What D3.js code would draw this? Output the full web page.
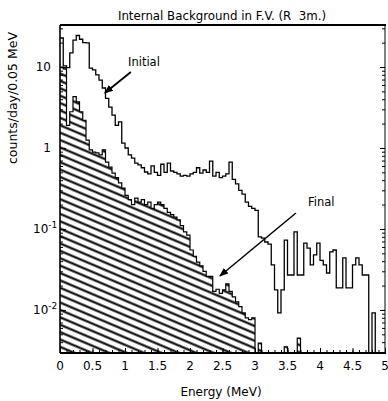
<!DOCTYPE html>
<html><head><meta charset="utf-8">
<script src="https://cdn.jsdelivr.net/npm/d3@7"></script>
<style>body{margin:0;background:#fff}svg{display:block}text{font-family:"DejaVu Sans",sans-serif;fill:#000}</style>
</head><body><div id="chart"></div>
<script>
// ---- data ----
const binWidth = 0.05; // MeV
const initialCounts = [22.8,10.3,9.8,14.9,21.5,24.5,22,20,19.8,9.7,
  9.2,8.0,6.9,5.5,4.1,3.2,2.55,1.9,2.1,1.15,
  1.0,0.82,0.75,0.65,0.62,0.57,0.505,0.48,0.6,0.5,
  0.46,0.63,0.5,0.65,0.52,0.5,0.48,0.45,0.46,0.45,
  0.48,0.5,0.57,0.49,0.535,0.5,0.69,0.45,0.5,0.43,
  0.45,0.48,0.67,0.41,0.36,0.30,0.27,0.215,0.19,0.18,
  0.17,0.08,0.077,0.069,0.065,0.036,0.0177,0.0092,0.0177,0.073,
  0.027,0.027,0.092,0.027,0.027,0.067,0.058,0.036,0.048,0.067,
  0.041,0.036,0.0286,0.052,0.055,0.0187,0.0187,0.044,0.0187,0.0187,
  0.036,0.044,0.036,0.027,0.027,0,0.0092,0,0,0];
const finalCounts = [10,9.5,1.9,2.8,4.3,3.7,2.8,2.2,1.25,0.95,
  0.89,0.87,0.82,0.95,0.67,0.58,0.49,0.43,0.37,0.32,
  0.26,0.23,0.2,0.24,0.215,0.23,0.2,0.215,0.18,0.2,
  0.215,0.2,0.18,0.16,0.15,0.14,0.13,0.11,0.092,0.084,
  0.055,0.046,0.039,0.035,0.03,0.026,0.026,0.017,0.018,0.016,
  0.0177,0.021,0.017,0.0145,0.0126,0.011,0.0092,0.008,0.0076,0.008,
  0,0.0039,0,0,0,0,0,0,0,0.0035,
  0,0,0,0.0045,0,0,0,0,0,0,
  0,0,0,0,0,0,0,0,0,0,
  0,0,0,0,0,0,0,0,0,0];
const xTickLabels = ["0","0.5","1","1.5","2","2.5","3","3.5","4","4.5","5"];
const xTickValues = [0,0.5,1,1.5,2,2.5,3,3.5,4,4.5,5];
const yMajorTicks = [10,1,0.1,0.01];
const yTickBase = ["10","1","10","10"];
const yTickExp = ["","","-1","-2"];
const titleText = "Internal Background in F.V. (R  3m.)";
const xTitle = "Energy (MeV)";
const yTitle = "counts/day/0.05 MeV";

// ---- layout ----
const W = 388, H = 401;
const L = 60, R = 385, T = 25, B = 353;
const yMin = 0.00294, yMax = 33;
const x = d3.scaleLinear().domain([0,5]).range([L,R]);
const y = d3.scaleLog().domain([yMin,yMax]).range([B,T]).clamp(true);

const svg = d3.select("#chart").append("svg").attr("width",W).attr("height",H);
const defs = svg.append("defs");
const pat = defs.append("pattern").attr("id","hatch").attr("patternUnits","userSpaceOnUse")
  .attr("width",12).attr("height",6.8).attr("patternTransform","rotate(23)");
pat.append("line").attr("x1",-1).attr("x2",13).attr("y1",3.4).attr("y2",3.4)
  .attr("stroke","#000").attr("stroke-width",2.1);
defs.append("marker").attr("id","arr").attr("viewBox","0 0 10 10").attr("refX",9).attr("refY",5)
  .attr("markerWidth",9).attr("markerHeight",9).attr("markerUnits","userSpaceOnUse").attr("orient","auto")
  .append("path").attr("d","M0,1 L10,5 L0,9 Z").attr("fill","#000");

function steps(vals){
  const pts = vals.map((v,i)=>[i*binWidth, v>0?v:yMin]);
  pts.push([vals.length*binWidth, vals[vals.length-1]>0?vals[vals.length-1]:yMin]);
  return pts;
}
const finalPts = steps(finalCounts);
const initPts = steps(initialCounts);

const area = d3.area().curve(d3.curveStepAfter).x(d=>x(d[0])).y0(B).y1(d=>y(d[1]));
const line = d3.line().curve(d3.curveStepAfter).x(d=>x(d[0])).y(d=>y(d[1]));

svg.append("path").attr("d",area(finalPts)).attr("fill","url(#hatch)").attr("stroke","none");
svg.append("path").attr("d",line(finalPts)).attr("fill","none").attr("stroke","#000").attr("stroke-width",1.2);
svg.append("path").attr("d",line(initPts)).attr("fill","none").attr("stroke","#000").attr("stroke-width",1.3);

// axes ticks
const minorY = [];
[0.001,0.01,0.1,1,10].forEach(d=>{for(let k=1;k<10;k++){const v=d*k; if(v>=yMin&&v<=yMax) minorY.push(v);}});
const xMinor = d3.range(0,51).map(i=>i/10);
svg.append("g").attr("transform",`translate(${L},0)`).call(d3.axisRight(y).tickValues(minorY).tickFormat("").tickSize(3))
  .call(g=>g.select(".domain").remove());
svg.append("g").attr("transform",`translate(${L},0)`).call(d3.axisRight(y).tickValues(yMajorTicks).tickFormat("").tickSize(6))
  .call(g=>g.select(".domain").remove());
svg.append("g").attr("transform",`translate(${R},0)`).call(d3.axisLeft(y).tickValues(minorY).tickFormat("").tickSize(3))
  .call(g=>g.select(".domain").remove());
svg.append("g").attr("transform",`translate(${R},0)`).call(d3.axisLeft(y).tickValues(yMajorTicks).tickFormat("").tickSize(5))
  .call(g=>g.select(".domain").remove());
svg.append("g").attr("transform",`translate(0,${B})`).call(d3.axisTop(x).tickValues(xMinor).tickFormat("").tickSize(3))
  .call(g=>g.select(".domain").remove());
svg.append("g").attr("transform",`translate(0,${B})`).call(d3.axisTop(x).tickValues(xTickValues).tickFormat("").tickSize(5))
  .call(g=>g.select(".domain").remove());
svg.selectAll(".tick line").attr("stroke","#000").attr("stroke-width",1);

// frame
svg.append("line").attr("x1",L).attr("x2",R+1).attr("y1",T).attr("y2",T).attr("stroke","#000").attr("stroke-width",2);
svg.append("line").attr("x1",L).attr("x2",R+1).attr("y1",B).attr("y2",B).attr("stroke","#000").attr("stroke-width",2);
svg.append("line").attr("x1",L).attr("x2",L).attr("y1",T).attr("y2",B).attr("stroke","#000").attr("stroke-width",1.6);
svg.append("line").attr("x1",R).attr("x2",R).attr("y1",T).attr("y2",B).attr("stroke","#000").attr("stroke-width",1);

// x tick labels
svg.append("g").selectAll("text").data(xTickValues).join("text")
  .attr("x",d=>x(d)).attr("y",370).attr("text-anchor","middle").attr("font-size",12)
  .text((d,i)=>xTickLabels[i]);

// y tick labels
yMajorTicks.forEach((v,i)=>{
  const t = svg.append("text").attr("y",y(v)).attr("dy","0.36em").attr("font-size",12);
  if(yTickExp[i]===""){
    t.attr("x",51).attr("text-anchor","end").text(yTickBase[i]);
  } else {
    t.attr("x",33).attr("text-anchor","start");
    t.append("tspan").text(yTickBase[i]);
    t.append("tspan").attr("dy",-5).attr("font-size",9).text(yTickExp[i]);
  }
});

// titles
svg.append("text").attr("x",222).attr("y",20).attr("text-anchor","middle").attr("font-size",11.8)
  .style("white-space","pre").text(titleText);
svg.append("text").attr("x",221).attr("y",396).attr("text-anchor","middle").attr("font-size",12).text(xTitle);
svg.append("text").attr("transform","translate(17,98) rotate(-90)").attr("text-anchor","middle").attr("font-size",12.5).text(yTitle);

// annotations
svg.append("text").attr("x",128).attr("y",66).attr("font-size",11.5).text("Initial");
svg.append("line").attr("x1",x(1.09)).attr("y1",72).attr("x2",x(0.69)).attr("y2",93)
  .attr("stroke","#000").attr("stroke-width",1.8).attr("marker-end","url(#arr)");
svg.append("text").attr("x",308).attr("y",206).attr("font-size",11.5).text("Final");
svg.append("line").attr("x1",x(3.63)).attr("y1",213).attr("x2",x(2.46)).attr("y2",276)
  .attr("stroke","#000").attr("stroke-width",1.5).attr("marker-end","url(#arr)");
</script></body></html>
